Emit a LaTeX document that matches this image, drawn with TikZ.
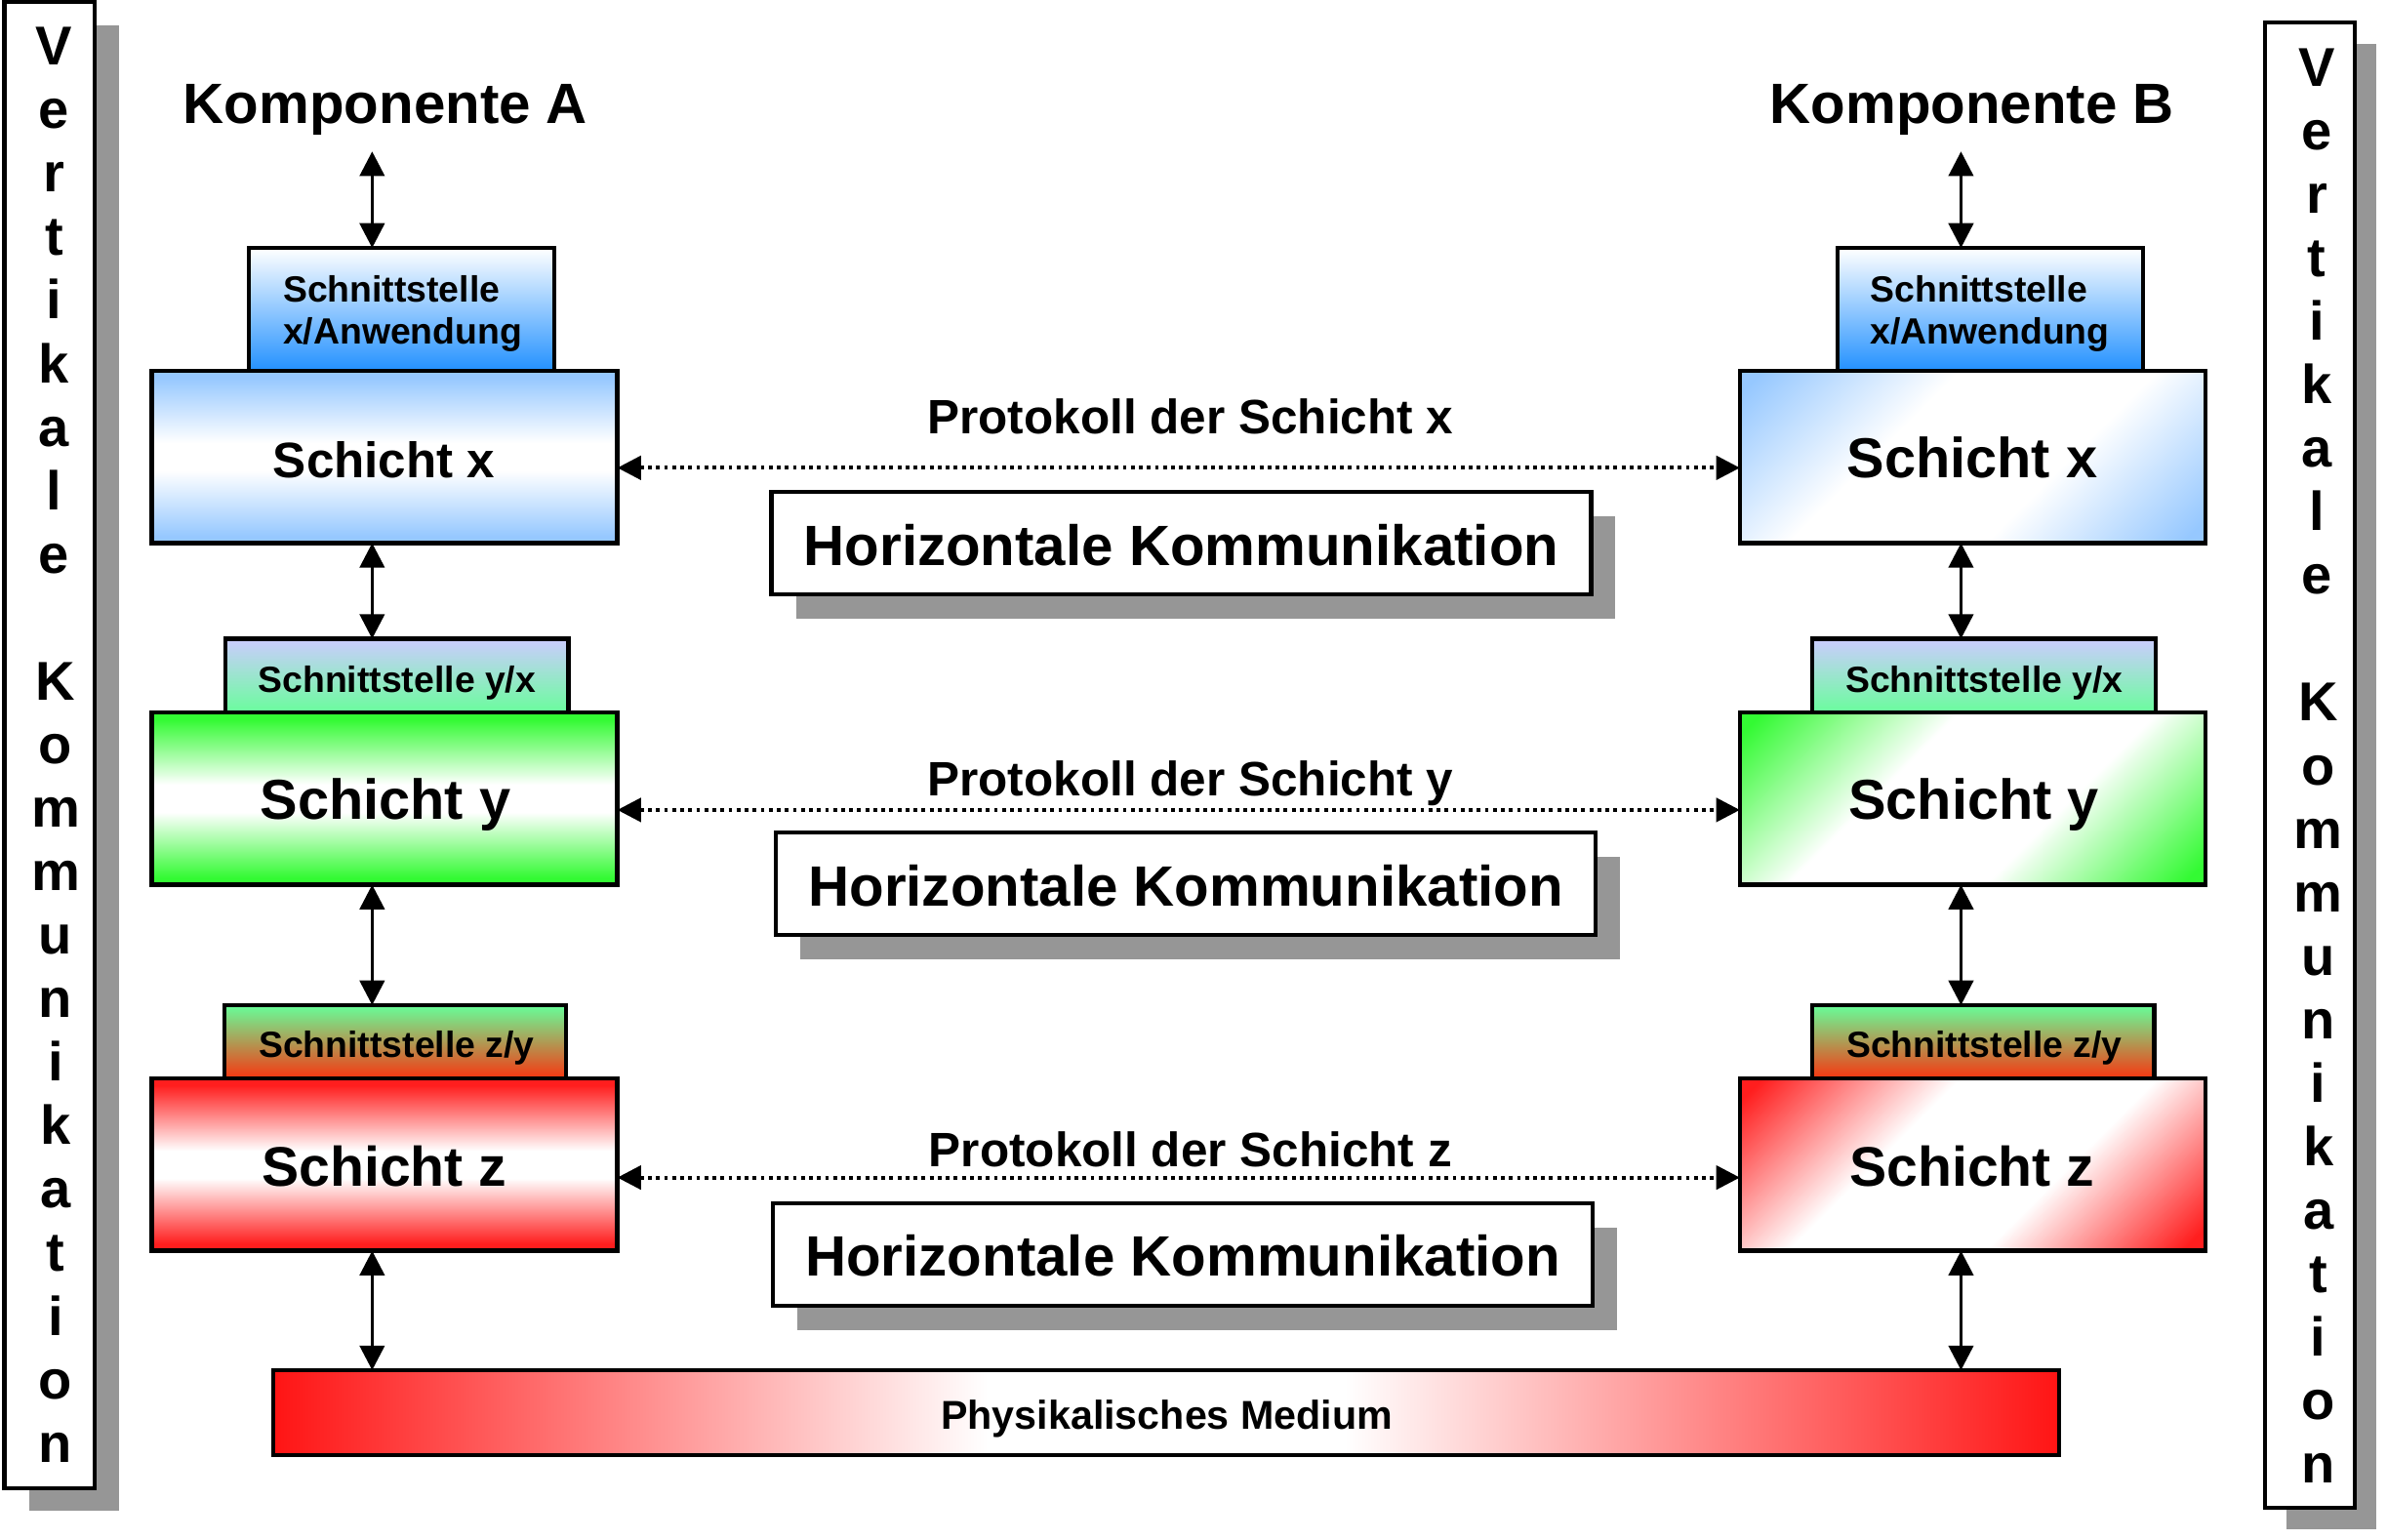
\documentclass[tikz,border=0pt]{standalone}
\usepackage{fontspec}
\setmainfont{Liberation Sans}
\usetikzlibrary{arrows.meta}
\definecolor{lblue}{RGB}{150,200,255}
\definecolor{dblue}{RGB}{35,145,255}
\definecolor{lav}{RGB}{204,204,255}
\definecolor{mint}{RGB}{102,255,153}
\definecolor{grn}{RGB}{51,250,51}
\definecolor{rd}{RGB}{255,30,30}
\definecolor{rdm}{RGB}{255,20,20}
\definecolor{zred}{RGB}{255,45,10}
\definecolor{shd}{RGB}{150,150,150}
\pgfdeclareverticalshading{vshblue}{100bp}{color(0bp)=(lblue); color(27bp)=(lblue); color(46bp)=(white); color(54bp)=(white); color(73bp)=(lblue); color(100bp)=(lblue)}
\pgfdeclareverticalshading{vshgrn}{100bp}{color(0bp)=(grn); color(27bp)=(grn); color(46bp)=(white); color(54bp)=(white); color(73bp)=(grn); color(100bp)=(grn)}
\pgfdeclareverticalshading{vshred}{100bp}{color(0bp)=(rd); color(27bp)=(rd); color(46bp)=(white); color(54bp)=(white); color(73bp)=(rd); color(100bp)=(rd)}
\pgfdeclareverticalshading{dshblue}{100bp}{color(0bp)=(lblue); color(17bp)=(lblue); color(39bp)=(white); color(61bp)=(white); color(83bp)=(lblue); color(100bp)=(lblue)}
\pgfdeclareverticalshading{dshgrn}{100bp}{color(0bp)=(grn); color(17bp)=(grn); color(39bp)=(white); color(61bp)=(white); color(83bp)=(grn); color(100bp)=(grn)}
\pgfdeclareverticalshading{dshred}{100bp}{color(0bp)=(rd); color(17bp)=(rd); color(39bp)=(white); color(61bp)=(white); color(83bp)=(rd); color(100bp)=(rd)}
\pgfdeclarehorizontalshading{medsh}{100bp}{color(0bp)=(rdm); color(25bp)=(rdm); color(45bp)=(white); color(55bp)=(white); color(75bp)=(rdm); color(100bp)=(rdm)}
\newcommand\fsz[1]{\fontsize{#1pt}{#1pt}\selectfont\bfseries}
\begin{document}
\begin{tikzpicture}[x=0.01cm,y=-0.01cm,
  box/.style={draw=black, line width=0.8pt, inner sep=0pt, outer sep=0pt},
  shadowbox/.style={fill=shd, draw=none, inner sep=0pt, outer sep=0pt},
  schicht/.style={box, minimum width=3.05cm, minimum height=1.13cm},
  sbig/.style={box, minimum width=2.0cm, minimum height=0.805cm},
  ssmall/.style={box, minimum width=2.25cm, minimum height=0.5cm},
  hkbox/.style={minimum width=5.37cm, minimum height=0.672cm},
  vbox/.style={minimum width=0.59cm, minimum height=9.735cm},
  lbl/.style={anchor=base, inner sep=0pt, outer sep=0pt, text=black},
  lblw/.style={anchor=base west, inner sep=0pt, outer sep=0pt, text=black},
  varrow/.style={line width=0.65pt, {Triangle[length=4.6pt,width=4.6pt]}-{Triangle[length=4.6pt,width=4.6pt]}},
  dotarrow/.style={line width=0.7pt, dash pattern=on 0.7pt off 0.8pt, {Triangle[length=4.4pt,width=4.4pt]}-{Triangle[length=4.4pt,width=4.4pt]}},
  vgrad/.style={shade, shading=#1},
  dgrad/.style={shade, shading=#1, shading angle=45},
]
\useasboundingbox (0,0) rectangle (1565,1009.6);

% vertical side boxes
\node[shadowbox, vbox] (vlS) at (48.5,503.5) {};
\node[box, vbox, fill=white] (vl) at (32.5,488.5) {};
\node[shadowbox, vbox] (vrS) at (1528.5,515.6) {};
\node[box, vbox, fill=white] (vr) at (1514.5,501.6) {};
\foreach \c [count=\i from 0] in {V,e,r,t,i,k,a,l,e}{
  \node[lbl, font=\fsz{10.2}] (vla\i) at (35.5,{42.7+41.63*\i}) {\c};
  \node[lbl, font=\fsz{10.2}] (vra\i) at (1519,{56.5+41.63*\i}) {\c};
}
\foreach \c [count=\i from 10] in {K,o,m,m,u,n,i,k,a,t,i,o,n}{
  \node[lbl, font=\fsz{10.2}] (vlb\i) at (36.5,{42.7+41.63*\i}) {\c};
  \node[lbl, font=\fsz{10.2}] (vrb\i) at (1520,{56.5+41.63*\i}) {\c};
}

% titles
\node[lbl, font=\fsz{10.6}] (kA) at (252.7,81) {Komponente A};
\node[lbl, font=\fsz{10.6}] (kB) at (1293,81) {Komponente B};

% left column
\node[sbig, top color=white, bottom color=dblue] (sxA) at (263.4,202.8) {};
\node[schicht, vgrad=vshblue] (lxA) at (252.2,299.5) {};
\node[ssmall, top color=lav, bottom color=mint] (syxA) at (260.2,443.8) {};
\node[schicht, vgrad=vshgrn] (lyA) at (252.2,523.5) {};
\node[ssmall, minimum width=2.24cm, top color=mint, bottom color=zred] (szyA) at (259.2,684) {};
\node[schicht, vgrad=vshred] (lzA) at (252.2,763.5) {};

% right column
\node[sbig, top color=white, bottom color=dblue] (sxB) at (1304.8,202.8) {};
\node[schicht, dgrad=dshblue] (lxB) at (1293.3,299.5) {};
\node[ssmall, top color=lav, bottom color=mint] (syxB) at (1300.8,443.8) {};
\node[schicht, dgrad=dshgrn] (lyB) at (1293.3,523.5) {};
\node[ssmall, minimum width=2.24cm, top color=mint, bottom color=zred] (szyB) at (1300.4,684) {};
\node[schicht, dgrad=dshred] (lzB) at (1293.3,763.5) {};

% physical medium
\node[box, minimum width=11.703cm, minimum height=0.557cm, shade, shading=medsh] (med) at (764.5,926.2) {};

% horizontal communication boxes
\node[shadowbox, hkbox] (hk1S) at (790.5,372.1) {};
\node[box, hkbox, fill=white] (hk1) at (774.5,356.1) {};
\node[shadowbox, hkbox] (hk2S) at (793.5,595.5) {};
\node[box, hkbox, fill=white] (hk2) at (777.5,579.5) {};
\node[shadowbox, hkbox] (hk3S) at (791.5,838.5) {};
\node[box, hkbox, fill=white] (hk3) at (775.5,822.5) {};

% labels in boxes
\node[lblw, font=\fsz{6.8}] (tsxA1) at (185.6,197.8) {Schnittstelle};
\node[lblw, font=\fsz{6.8}] (tsxA2) at (185.6,225.3) {x/Anwendung};
\node[lblw, font=\fsz{6.8}] (tsxB1) at (1226.3,197.8) {Schnittstelle};
\node[lblw, font=\fsz{6.8}] (tsxB2) at (1226.3,225.3) {x/Anwendung};
\node[lbl, font=\fsz{6.8}] (tsyxA) at (260.3,453.8) {Schnittstelle y/x};
\node[lbl, font=\fsz{6.8}] (tsyxB) at (1301,453.8) {Schnittstelle y/x};
\node[lbl, font=\fsz{6.8}] (tszyA) at (260,693.5) {Schnittstelle z/y};
\node[lbl, font=\fsz{6.8}] (tszyB) at (1301,693.5) {Schnittstelle z/y};
\node[lbl, font=\fsz{9.3}] (tlxA) at (251.8,313.5) {Schicht x};
\node[lbl, font=\fsz{10.5}] (tlxB) at (1293,313.5) {Schicht x};
\node[lbl, font=\fsz{10.5}] (tlyA) at (252.7,537.3) {Schicht y};
\node[lbl, font=\fsz{10.5}] (tlyB) at (1294,537.3) {Schicht y};
\node[lbl, font=\fsz{10.4}] (tlzA) at (252,777.5) {Schicht z};
\node[lbl, font=\fsz{10.4}] (tlzB) at (1293,777.5) {Schicht z};
\node[lbl, font=\fsz{9}] (px) at (780.5,284.5) {Protokoll der Schicht x};
\node[lbl, font=\fsz{9}] (py) at (780.5,521.5) {Protokoll der Schicht y};
\node[lbl, font=\fsz{9}] (pz) at (780.5,765.2) {Protokoll der Schicht z};
\node[lbl, font=\fsz{10.6}] (thk1) at (774.5,370.6) {Horizontale Kommunikation};
\node[lbl, font=\fsz{10.6}] (thk2) at (777.5,593.8) {Horizontale Kommunikation};
\node[lbl, font=\fsz{10.6}] (thk3) at (775.5,836.8) {Horizontale Kommunikation};
\node[lbl, font=\fsz{7.5}] (tmed) at (765,937.3) {Physikalisches Medium};

% vertical arrows
\coordinate (tA) at (244,99.3);
\coordinate (tB) at (1285.7,99.3);
\draw[varrow] (tA) -- (tA |- sxA.north);
\draw[varrow] (tA |- lxA.south) -- (tA |- syxA.north);
\draw[varrow] (tA |- lyA.south) -- (tA |- szyA.north);
\draw[varrow] (tA |- lzA.south) -- (tA |- med.north);
\draw[varrow] (tB) -- (tB |- sxB.north);
\draw[varrow] (tB |- lxB.south) -- (tB |- syxB.north);
\draw[varrow] (tB |- lyB.south) -- (tB |- szyB.north);
\draw[varrow] (tB |- lzB.south) -- (tB |- med.north);

% dotted protocol arrows
\draw[dotarrow] ([yshift=-0.072cm]lxA.east) -- ([yshift=-0.072cm]lxB.west);
\draw[dotarrow] ([yshift=-0.075cm]lyA.east) -- ([yshift=-0.075cm]lyB.west);
\draw[dotarrow] ([yshift=-0.085cm]lzA.east) -- ([yshift=-0.085cm]lzB.west);
\end{tikzpicture}
\end{document}
